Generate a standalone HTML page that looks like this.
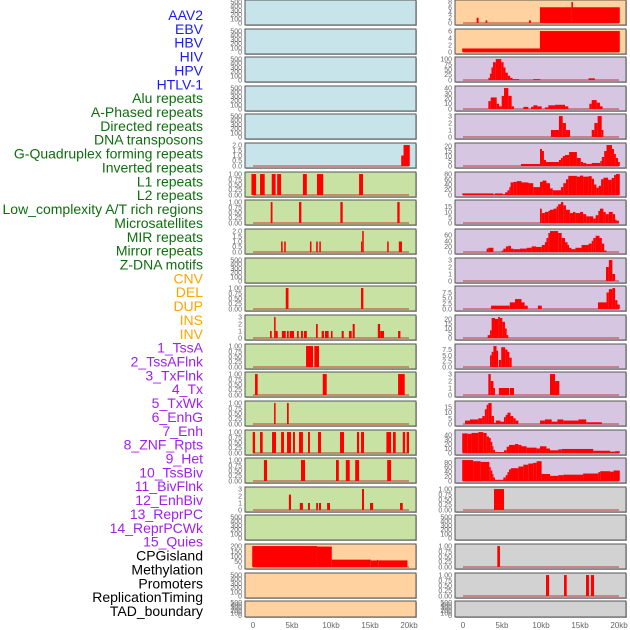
<!DOCTYPE html>
<html><head><meta charset="utf-8">
<style>
html,body{margin:0;padding:0;background:#fff;}
svg{display:block;}
text{font-family:"Liberation Sans",sans-serif;}
</style></head>
<body>
<svg id="chart" width="630" height="630" viewBox="0 0 630 630" xmlns="http://www.w3.org/2000/svg"></svg>
<script>
// ---------- data ----------
const trackLabels = ["AAV2","EBV","HBV","HIV","HPV","HTLV-1","Alu repeats","A-Phased repeats","Directed repeats","DNA transposons","G-Quadruplex forming repeats","Inverted repeats","L1 repeats","L2 repeats","Low_complexity A/T rich regions","Microsatellites","MIR repeats","Mirror repeats","Z-DNA motifs","CNV","DEL","DUP","INS","INV","1_TssA","2_TssAFlnk","3_TxFlnk","4_Tx","5_TxWk","6_EnhG","7_Enh","8_ZNF_Rpts","9_Het","10_TssBiv","11_BivFlnk","12_EnhBiv","13_ReprPC","14_ReprPCWk","15_Quies","CPGisland","Methylation","Promoters","ReplicationTiming","TAD_boundary"];
const labelGroups = [6,13,5,15,5];
const xTickValues = [0,5,10,15,20];
const xTickLabels = ["0","5kb","10kb","15kb","20kb"];

const T500 = ['0','100','200','300','400','500'];
const T1 = ['0.00','0.25','0.50','0.75','1.00'];
const T2 = ['0.0','0.5','1.0','1.5','2.0'];
const T3 = ['0','1','2','3'];

// segments: [startKb, endKb, value]
const L6 = [[19.0,19.3,1],[19.3,20.1,2]];
const L7 = [[-0.2,0.4,1],[0.9,1.5,1],[2.4,2.9,1],[3.1,3.6,1],[6.4,6.9,1],[8.2,9.0,1],[13.6,14.1,1]];
const L8 = [[2.27,2.5,1],[5.9,6.2,1],[11.2,11.5,1],[18.5,18.8,1]];
const L9 = [[3.6,3.8,1],[4.0,4.2,1],[7.3,7.5,1],[8.1,8.3,1],[8.5,8.7,1],[13.85,14.0,1],[14.0,14.2,2],[17.2,17.4,1],[18.7,19.1,1]];
const L11 = [[4.2,4.55,1],[13.85,14.15,1]];
const L12 = [[2.18,2.4,1],[2.7,2.9,3],[2.9,3.17,1],[3.7,4.2,1],[4.36,4.58,1],[4.7,5.26,1],[5.64,5.86,1],[6.15,6.4,1],[6.54,6.9,1],[8.08,8.3,2],[8.8,9.1,1],[9.23,9.7,1],[10.0,10.2,1],[11.37,11.63,1],[12.3,12.65,1],[12.78,13.04,2],[16.0,16.3,2],[16.3,16.8,1],[18.6,18.9,1]];
const L13 = [[6.8,7.7,1],[7.86,8.46,1]];
const L14 = [[0.26,0.6,1],[8.94,9.45,1],[18.6,19.45,1]];
const L15 = [[2.7,2.9,1],[4.36,4.58,1]];
const L16 = [[-0.04,0.26,1],[0.9,1.24,1],[2.44,2.95,1],[3.6,3.97,1],[4.36,4.87,1],[5.13,5.38,1],[5.9,6.4,1],[7.05,7.3,1],[8.33,8.72,1],[11.15,11.67,1],[13.33,13.6,1],[13.85,14.23,1],[17.1,17.7,1],[17.95,18.3,1],[19.2,19.5,1],[19.7,20.0,1]];
const L17 = [[1.4,1.8,1],[6.15,6.67,1],[10.64,11.0,1],[11.9,12.4,1],[13.1,13.6,1],[17.2,17.7,1]];
const L18 = [[4.6,4.87,2.2],[6.0,6.4,1],[7.05,7.3,1],[8.1,8.33,1],[8.46,8.72,1],[9.5,9.87,1],[13.97,14.23,3],[15.0,15.4,1],[18.85,19.2,1]];
const L20 = [[-0.1,8.2,200],[8.2,10.1,195],[10.1,15.1,70],[15.1,15.9,62],[15.9,16.05,68],[16.05,19.8,63]];

const R1 = [[1.75,2.0,2],[2.9,3.1,1],[8.46,8.7,1],[9.87,13.9,6],[13.9,14.1,8],[14.1,20.1,6]];
const R2 = [[-0.1,9.87,1],[9.87,20.1,6]];
const R3 = [[3.25,3.45,10],[3.45,3.65,30],[3.65,3.85,60],[3.85,4.2,85],[4.2,4.9,100],[4.9,5.2,85],[5.2,5.45,60],[5.45,5.75,35],[5.75,6.05,20],[6.05,6.35,10],[6.35,7.2,4],[9.0,9.9,4],[16.1,16.9,8]];
const R4 = [[3.25,3.55,15],[3.55,4.32,22],[4.32,4.62,10],[4.62,4.96,5],[4.96,5.26,25],[5.26,5.81,40],[5.81,6.24,25],[6.24,6.54,5],[7.74,8.38,4],[8.72,9.02,4],[9.02,9.53,7],[9.53,10.09,5],[10.5,10.94,3],[10.94,11.8,7],[11.8,13.08,8],[13.08,13.5,5],[16.2,16.5,10],[16.5,17.14,17],[17.14,17.56,12],[17.56,17.9,5]];
const R5 = [[11.28,12.3,1],[12.3,12.78,3],[12.78,13.2,2],[13.2,13.72,1],[16.5,16.84,1],[16.84,17.26,2],[17.26,17.78,3],[17.78,18.0,1]];
const R6 = [[7.44,9.87,2],[9.87,10.13,17],[10.13,10.38,15],[10.38,10.64,6],[10.64,12.3,4],[12.3,12.56,6],[12.56,12.8,8],[12.8,13.08,10],[13.08,13.6,11],[13.6,14.6,14],[14.6,15.1,8],[15.1,15.4,4],[15.4,15.8,3],[15.8,16.5,2],[16.5,17.6,3],[17.6,17.8,5],[17.8,18.1,9],[18.1,18.4,15],[18.4,19.1,21],[19.1,19.36,17],[19.36,19.6,12],[19.6,19.87,8],[19.87,20.1,4]];
const R7 = [[-0.1,3.9,6],[3.9,4.1,2],[4.1,5.1,6],[5.1,5.4,3],[5.4,5.7,10],[5.7,5.94,18],[5.94,6.1,30],[6.1,6.45,48],[6.45,6.9,50],[6.9,7.5,53],[7.5,8.4,48],[8.4,9.0,45],[9.0,9.87,30],[9.87,10.2,50],[10.2,10.7,55],[10.7,11.15,45],[11.15,11.5,25],[11.5,12.56,18],[12.56,12.86,30],[12.86,13.2,45],[13.2,13.5,60],[13.5,14.6,73],[14.6,15.0,70],[15.0,15.4,74],[15.4,16.1,70],[16.1,16.5,72],[16.5,16.8,62],[16.8,17.1,40],[17.1,17.4,28],[17.4,17.7,35],[17.7,18.0,60],[18.0,18.6,66],[18.6,19.06,58],[19.06,19.36,65],[19.36,19.6,76],[19.6,20.1,80]];
const R8 = [[9.87,10.1,13],[10.1,10.5,9],[10.5,10.94,10],[10.94,11.15,11],[11.15,11.6,12],[11.6,12.0,13],[12.0,12.2,15],[12.2,12.56,17],[12.56,12.86,19],[12.86,13.2,16],[13.2,13.7,12],[13.7,14.1,9],[14.1,14.4,10],[14.4,15.0,9],[15.0,15.4,10],[15.4,15.8,8],[15.8,16.2,6],[16.2,16.7,6],[16.7,17.0,4],[17.0,17.35,7],[17.35,17.56,11],[17.56,18.0,13],[18.0,18.3,10],[18.3,18.7,8],[18.7,19.2,10],[19.2,19.5,8],[19.5,19.7,3],[19.7,20.0,2]];
const R9 = [[3.03,3.25,12],[3.25,3.9,15],[4.96,5.17,5],[5.17,5.5,12],[5.5,5.81,20],[5.81,6.15,22],[6.15,6.45,12],[6.45,7.3,10],[7.3,8.16,12],[8.16,8.8,15],[8.8,9.36,20],[9.36,10.1,18],[10.1,10.5,25],[10.5,10.7,35],[10.7,10.94,50],[10.94,11.15,68],[11.15,12.2,75],[12.2,12.65,68],[12.65,13.08,50],[13.08,13.4,35],[13.4,13.6,25],[13.6,13.9,15],[13.9,14.4,10],[14.4,15.2,15],[15.2,16.1,25],[16.1,16.5,30],[16.5,16.7,40],[16.7,17.0,50],[17.0,17.5,58],[17.5,17.8,50],[17.8,18.1,30],[18.1,18.4,5]];
const R10 = [[18.33,18.7,2],[18.7,19.15,3],[19.15,19.5,1]];
const R11 = [[3.6,6.0,1.5],[6.0,6.67,3],[6.67,7.5,4.5],[7.5,7.9,3],[7.9,8.3,1.5],[9.6,10.1,1.5],[17.3,18.4,3],[18.4,18.7,7.5],[18.7,19.15,9],[19.15,19.5,9.5],[19.5,19.8,4],[19.8,20.1,2]];
const R12 = [[3.16,3.46,3],[3.46,3.67,8],[3.67,4.1,21],[4.1,4.5,20],[4.5,4.74,22],[4.74,5.04,21],[5.04,5.38,17],[5.38,5.6,10],[5.6,5.81,3]];
const R13 = [[3.46,3.67,5],[3.67,3.9,6.5],[3.9,4.3,9],[4.3,4.5,7],[4.6,4.9,3],[4.9,5.4,8.5],[5.4,5.7,7.5],[5.7,5.94,6.5],[5.94,6.24,4]];
const R14 = [[3.25,3.55,3],[3.55,3.9,2],[3.9,4.1,1],[4.6,5.9,1],[6.0,6.54,1],[11.15,11.8,3],[11.8,12.35,2]];
const R15 = [[0.26,0.9,3],[0.9,1.97,4],[1.97,2.48,5],[2.48,2.8,7],[2.8,3.03,13],[3.03,3.25,17],[3.25,3.67,18.5],[3.67,3.97,7],[3.97,4.2,1],[4.2,4.8,3],[4.8,5.25,2],[5.25,5.47,6],[5.47,5.7,8],[5.7,6.1,10],[6.1,6.45,7],[6.45,6.75,5],[6.75,7.1,3],[9.87,10.5,3],[10.5,11.37,4],[11.37,12.1,2],[12.1,12.86,4],[12.86,14.8,3],[14.8,15.8,4],[15.8,17.8,1.5]];
const R16 = [[-0.1,0.6,44],[0.6,1.1,43],[1.1,1.97,45],[1.97,2.6,47],[2.6,3.03,45],[3.03,3.33,37],[3.33,3.55,34],[3.55,3.76,25],[3.76,3.9,15],[3.9,4.1,7],[4.1,5.25,2],[5.25,5.6,6],[5.6,5.9,14],[5.9,6.67,18],[6.67,7.1,20],[7.1,7.5,18],[7.5,8.16,15],[8.16,9.44,12],[9.44,9.87,10],[9.87,10.7,15],[10.7,11.15,10],[11.15,12.2,6],[12.2,12.65,8],[12.65,16.7,9],[16.7,18.85,5],[18.85,19.5,3],[19.5,20.1,4]];
const R17 = [[-0.1,1.3,90],[1.3,2.26,85],[2.26,3.38,82],[3.38,3.55,60],[3.55,3.76,45],[3.76,3.9,30],[3.9,4.1,15],[4.1,5.17,5],[5.17,5.47,15],[5.47,5.7,25],[5.7,5.9,38],[5.9,6.15,50],[6.15,7.1,55],[7.1,7.74,62],[7.74,8.38,70],[8.38,9.0,75],[9.0,9.44,78],[9.44,10.08,85],[10.08,11.15,30],[11.15,12.2,22],[12.2,12.86,25],[12.86,15.4,27],[15.4,17.35,32],[17.35,17.6,38],[17.6,18.85,42],[18.85,19.3,40],[19.3,20.1,45]];
const R18 = [[3.97,5.26,1]];
const R20 = [[4.4,4.74,1]];
const R21 = [[10.64,11.03,1],[12.95,13.3,1],[15.77,16.15,1],[16.4,16.8,1]];

const leftData = [null,null,null,null,null,L6,L7,L8,L9,null,L11,L12,L13,L14,L15,L16,L17,L18,null,L20,null,null];
const rightData = [R1,R2,R3,R4,R5,R6,R7,R8,R9,R10,R11,R12,R13,R14,R15,R16,R17,R18,null,R20,R21,null];
const leftTicks = [T500,T500,T500,T500,T500,T2,T1,T1,T2,T500,T1,T3,T1,T1,T1,T1,T1,T3,T500,['0','50','100','150','200'],T500,T500];
const rightTicks = [['0','2','4','6','8'],['0','2','4','6'],['0','25','50','75','100'],['0','10','20','30','40'],T3,['0','5','10','15','20'],['0','20','40','60','80'],['0','5','10','15'],['0','20','40','60'],T3,['0.0','2.5','5.0','7.5'],['0','5','10','15','20'],['0.0','2.5','5.0','7.5'],T3,['0','5','10','15'],['0','10','20','30','40'],['0','20','40','60','80'],T1,T500,T1,T1,T500];

// ---------- layout ----------
const NS = 'http://www.w3.org/2000/svg';
const svg = document.getElementById('chart');
const rowTops = [0,29,57,86,114,143,172,200,229,258,286,315,344,372,401,430,458,487,515,544,573,601];
const C_BLUE='#c8e4eb', C_GREEN='#c8e2a4', C_ORANGE='#ffd2a0', C_PURPLE='#d6c6e2', C_GRAY='#d2d2d2';
const leftBg = i => i<6?C_BLUE:(i<19?C_GREEN:C_ORANGE);
const rightBg = i => i<2?C_ORANGE:(i<17?C_PURPLE:C_GRAY);
const cols = [{x0:245,x1:416,z:253,tickX:242,data:leftData,ticks:leftTicks,bg:leftBg,name:'left'},
              {x0:455,x1:626,z:463,tickX:452,data:rightData,ticks:rightTicks,bg:rightBg,name:'right'}];
const PXKB = 7.8;

function mk(tag, attrs, parent){
  const e = document.createElementNS(NS, tag);
  for (const k in attrs) e.setAttribute(k, attrs[k]);
  (parent||svg).appendChild(e);
  return e;
}

// labels
const groupColors = ['#1a1aff','#0e6e0e','#ffa500','#a020f0','#000000'];
let li = 0;
labelGroups.forEach((n,g)=>{
  for (let k=0;k<n;k++){
    const t = mk('text',{x:203,y:(20+li*13.86).toFixed(1),'text-anchor':'end','font-size':'14',fill:groupColors[g]});
    
    
    t.textContent = trackLabels[li];
    li++;
  }
});

cols.forEach(c=>{
  rowTops.forEach((top,i)=>{
    const h = i===21?16:25;
    const g = mk('g',{});
    
    
    mk('rect',{x:c.x0+1,y:top+1,width:c.x1-c.x0,height:h,fill:'#bbb'},g);
    mk('rect',{x:c.x0,y:top,width:c.x1-c.x0,height:h,fill:c.bg(i),stroke:'#555','stroke-width':1},g);
    const ticks = c.ticks[i];
    const data = c.data[i];
    let M = parseFloat(ticks[ticks.length-1]);
    if (data) data.forEach(d=>{ if (d[2]>M) M=d[2]; });
    const lo = -0.05*M, hi = 1.05*M;
    const yt = top+1, yb = top+h-1;
    const yS = v => yb - (v-lo)/(hi-lo)*(yb-yt);
    const xS = kb => c.z + kb*PXKB;
    ticks.forEach(tl=>{
      const t = mk('text',{x:c.tickX,y:(yS(parseFloat(tl))+2.5).toFixed(1),'text-anchor':'end','font-size':'7',fill:'#666'},g);
      
      
      t.textContent = tl;
    });
    if (data){
      const bl = mk('line',{x1:xS(0),x2:xS(20),y1:yS(0),y2:yS(0),stroke:'rgba(190,40,40,0.6)','stroke-width':1.5},g);
      
      
      data.forEach(d=>{
        const x0 = Math.max(xS(d[0]), c.x0+0.5), x1 = Math.min(xS(d[1]), c.x1-0.5);
        const r = mk('rect',{x:x0.toFixed(2),y:yS(d[2]).toFixed(2),width:Math.max(0.8,x1-x0).toFixed(2),height:(yS(0)-yS(d[2])).toFixed(2),fill:'#ff0000'},g);
        
        
      });
    }
  });
  xTickValues.forEach((v,k)=>{
    const t = mk('text',{x:c.z+v*PXKB,y:628,'text-anchor':'middle','font-size':'8',fill:'#666'});
    
    
    t.textContent = xTickLabels[k];
  });
});
</script>
</body></html>
